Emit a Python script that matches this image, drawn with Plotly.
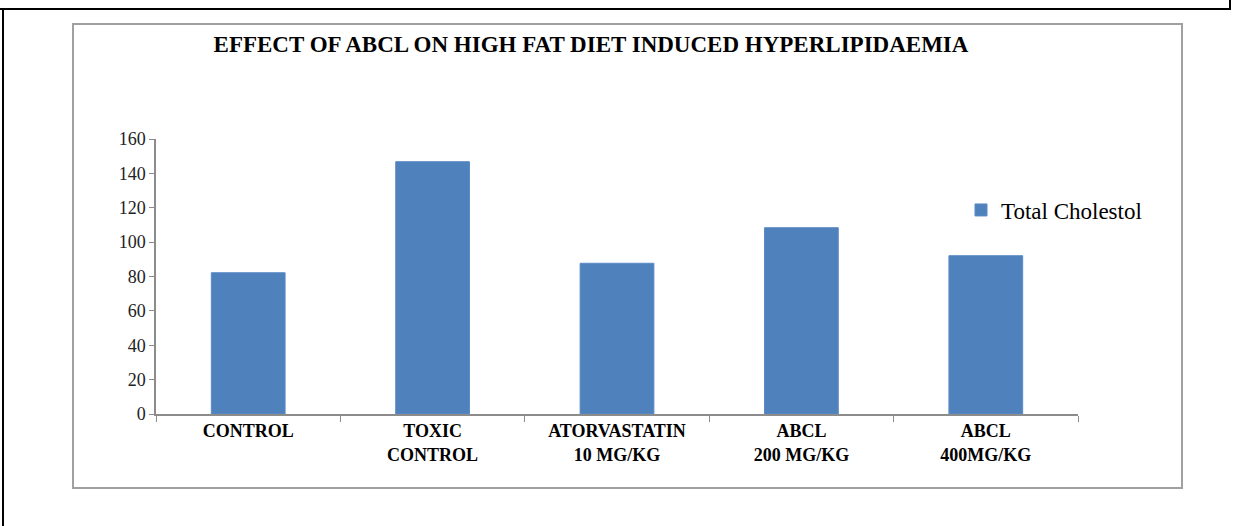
import plotly.graph_objects as go

categories = ["CONTROL", "TOXIC<br>CONTROL", "ATORVASTATIN<br>10 MG/KG", "ABCL<br>200 MG/KG", "ABCL<br>400MG/KG"]
total_cholestol = [82.2, 146.8, 87.7, 108.4, 92.1]
y_ticks = [0, 20, 40, 60, 80, 100, 120, 140, 160]
series_name = "Total Cholestol"
title_text = "EFFECT OF ABCL ON HIGH FAT DIET INDUCED HYPERLIPIDAEMIA"

W, H = 1234, 526
L, R, T, B = 156, 1078, 139, 414
PW, PH = R - L, B - T

def px(x):
    return (x - L) / PW

def py(y):
    return (B - y) / PH

SERIF = "Liberation Serif"

fig = go.Figure()
fig.add_trace(go.Bar(
    x=categories, y=total_cholestol, name=series_name,
    marker=dict(color="#4F81BD", line=dict(color="#5B8BC6", width=1)),
    showlegend=True,
))

shapes = [
    # inner grey chart frame
    dict(type="rect", xref="paper", yref="paper",
         x0=px(73), x1=px(1182), y0=py(488), y1=py(24),
         line=dict(color="#A0A0A0", width=2), layer="below"),
    # outer black page lines
    dict(type="line", xref="paper", yref="paper",
         x0=px(0), x1=px(1231), y0=py(9), y1=py(9),
         line=dict(color="black", width=2)),
    dict(type="line", xref="paper", yref="paper",
         x0=px(3), x1=px(3), y0=py(9), y1=py(526),
         line=dict(color="black", width=2)),
    dict(type="line", xref="paper", yref="paper",
         x0=px(1230), x1=px(1230), y0=py(0), y1=py(9),
         line=dict(color="black", width=2)),
]

fig.update_layout(
    width=W, height=H,
    margin=dict(l=L, r=W - R, t=T, b=H - B, autoexpand=False),
    paper_bgcolor="white", plot_bgcolor="white",
    font=dict(family=SERIF, color="black"),
    bargap=0.6,
    title=dict(text="<b>" + title_text + "</b>", x=px(591), xref="paper", xanchor="center",
               y=1 - 44 / H, yref="container", yanchor="middle",
               font=dict(family=SERIF, size=23, color="black")),
    legend=dict(x=px(961), y=py(210), xanchor="left", yanchor="middle",
                font=dict(family=SERIF, size=23, color="black"),
                bgcolor="rgba(0,0,0,0)", itemclick=False),
    shapes=shapes,
    xaxis=dict(showline=True, linecolor="#8C8C8C", linewidth=1.5,
               ticks="outside", tickson="boundaries", ticklen=6, tickcolor="#8C8C8C",
               tickprefix="<b>", ticksuffix="</b>",
               tickfont=dict(family=SERIF, size=18, color="black"),
               showgrid=False, zeroline=False),
    yaxis=dict(range=[0, 160], tickvals=y_ticks, showline=True, linecolor="#8C8C8C", linewidth=1.5,
               ticks="outside", ticklen=5, tickcolor="#8C8C8C",
               tickfont=dict(family=SERIF, size=18, color="#222222"),
               showgrid=False, zeroline=False),
)

fig.write_html("out.html", config={"displayModeBar": False},
               post_script="document.body.style.margin='0';document.body.style.overflow='hidden';")
